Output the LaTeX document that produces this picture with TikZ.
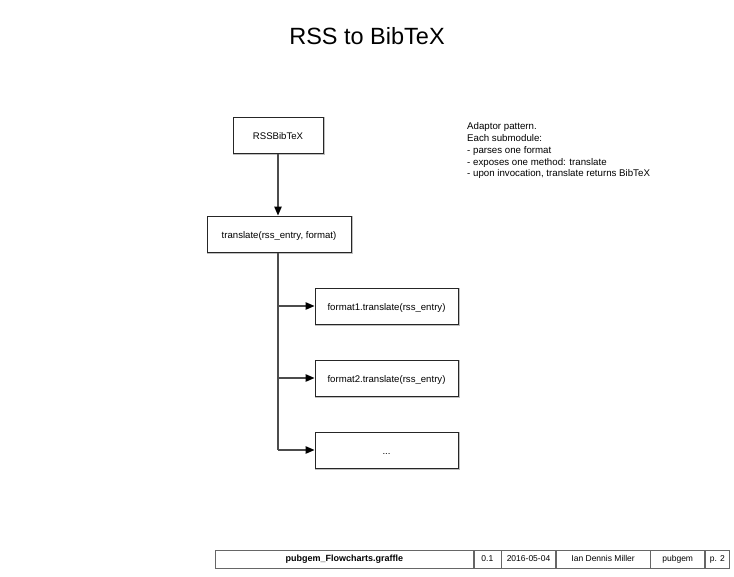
\documentclass[tikz,border=0pt]{standalone}
\usepackage{fontspec}
\setmainfont{Liberation Sans}
\usetikzlibrary{arrows.meta}
\begin{document}
\begin{tikzpicture}[x=1pt,y=-1pt,
  box/.style={draw=black!85,line width=1pt,fill=white,minimum width=143pt,minimum height=36pt,inner sep=0pt,text height=9pt,text depth=1pt,font=\fontsize{9.6}{11}\selectfont,
    preaction={draw=black!25,line width=1.2pt,fill=black!25,transform canvas={xshift=1pt,yshift=-1pt}}},
  conn/.style={draw=black!70,line width=1.2pt},
  arr/.style={conn,-{Triangle[length=9pt,width=7.5pt,fill=black,color=black]}},
  cell/.style={draw=black!60,line width=0.6pt,minimum height=18pt,inner sep=0pt,text height=7pt,text depth=2pt,font=\fontsize{8.5}{9}\selectfont}]
\useasboundingbox (0,0) rectangle (734,576);
\node[font=\fontsize{23.5}{26}\selectfont] (title) at (367,36) {RSS to BibTeX};
\node[box,minimum width=90pt] (rss) at (278,135) {RSSBibTeX};
\node[box,minimum width=144pt] (tr) at (279,234) {translate(rss\_entry, format)};
\node[box] (f1) at (386.5,306) {format1.translate(rss\_entry)};
\node[box] (f2) at (386.5,378) {format2.translate(rss\_entry)};
\node[box] (f3) at (386.5,450) {...};
\coordinate (j) at (278,450);
\draw[arr] (rss.south) -- (rss.south |- tr.north);
\draw[conn] (rss.south |- tr.south) -- (j);
\draw[arr] (f1.west -| j) -- (f1.west);
\draw[arr] (f2.west -| j) -- (f2.west);
\draw[arr] (j) -- (f3.west);
\node[anchor=north west,align=left,inner sep=0pt,font=\fontsize{9.7}{11.8}\selectfont] (note) at (467,122.5) {Adaptor pattern.\\Each submodule:\\- parses one format\\- exposes one method: translate\\- upon invocation, translate returns BibTeX};
\node[cell,minimum width=258pt,font=\fontsize{9}{9}\bfseries\selectfont,anchor=west] (c1) at (215,559) {pubgem\_Flowcharts.graffle};
\node[cell,minimum width=27pt,anchor=west] (c2) at (c1.east) {0.1};
\node[cell,minimum width=54pt,anchor=west] (c3) at (c2.east) {2016-05-04};
\node[cell,minimum width=94pt,anchor=west] (c4) at (c3.east) {Ian Dennis Miller};
\node[cell,minimum width=54pt,anchor=west] (c5) at (c4.east) {pubgem};
\node[cell,minimum width=24pt,anchor=west] (c6) at (c5.east) {p. 2};
\end{tikzpicture}
\end{document}
